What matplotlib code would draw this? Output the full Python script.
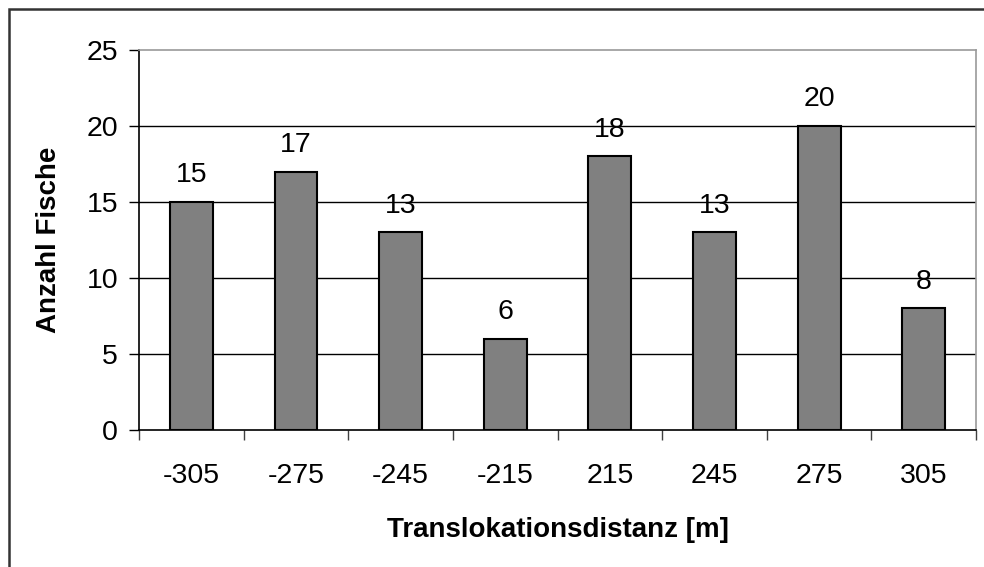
import numpy as np
import matplotlib.pyplot as plt
from matplotlib.patches import Rectangle

distances = ['-305', '-275', '-245', '-215', '215', '245', '275', '305']
counts = [15, 17, 13, 6, 18, 13, 20, 8]
yticks = [0, 5, 10, 15, 20, 25]

plt.rcParams['font.family'] = ['Liberation Sans', 'DejaVu Sans']
fs = 20.5
lfs = 20

fig = plt.figure(figsize=(9.84, 5.67), dpi=100)
ax = fig.add_axes([0.1413, 0.2416, 0.8506, 0.6702])

# frame around the whole chart (only left and top edges fall inside the image)
fig.patches.append(Rectangle((9 / 984, -0.1), 1.2, 1 - 9 / 567 + 0.1, transform=fig.transFigure,
                             fill=False, edgecolor='#333333', linewidth=1.8, zorder=0))

x = np.arange(len(distances))
bars = ax.bar(x, counts, width=0.41, color='#808080', edgecolor='black', linewidth=1.5, zorder=3)
for xi, c in zip(x, counts):
    ax.text(xi, c + 0.9, str(c), ha='center', va='bottom', fontsize=fs)

ax.set_xlim(-0.5, len(distances) - 0.5)
ax.set_ylim(0, 25)
ax.set_yticks(yticks)
ax.set_yticklabels([str(v) for v in yticks], fontsize=fs)
ax.set_xticks(x)
ax.set_xticklabels(distances, fontsize=fs)
ax.set_xticks(np.arange(-0.5, len(distances)), minor=True)
ax.tick_params(axis='x', which='major', length=0, pad=24)
ax.tick_params(axis='x', which='minor', length=7, width=1, color='#404040')
ax.tick_params(axis='y', length=7, width=1, pad=8)

for v in yticks[1:-1]:
    ax.axhline(v, color='black', linewidth=1, zorder=1)

ax.spines['left'].set_color('black')
ax.spines['bottom'].set_color('black')
ax.spines['top'].set_color('#999999')
ax.spines['right'].set_color('#999999')
for s in ax.spines.values():
    s.set_linewidth(1.2)

ax.set_xlabel('Translokationsdistanz [m]', fontsize=lfs, fontweight='bold', labelpad=20)
ax.set_ylabel('Anzahl Fische', fontsize=lfs, fontweight='bold', labelpad=18)

fig.savefig('out.png', dpi=100)
